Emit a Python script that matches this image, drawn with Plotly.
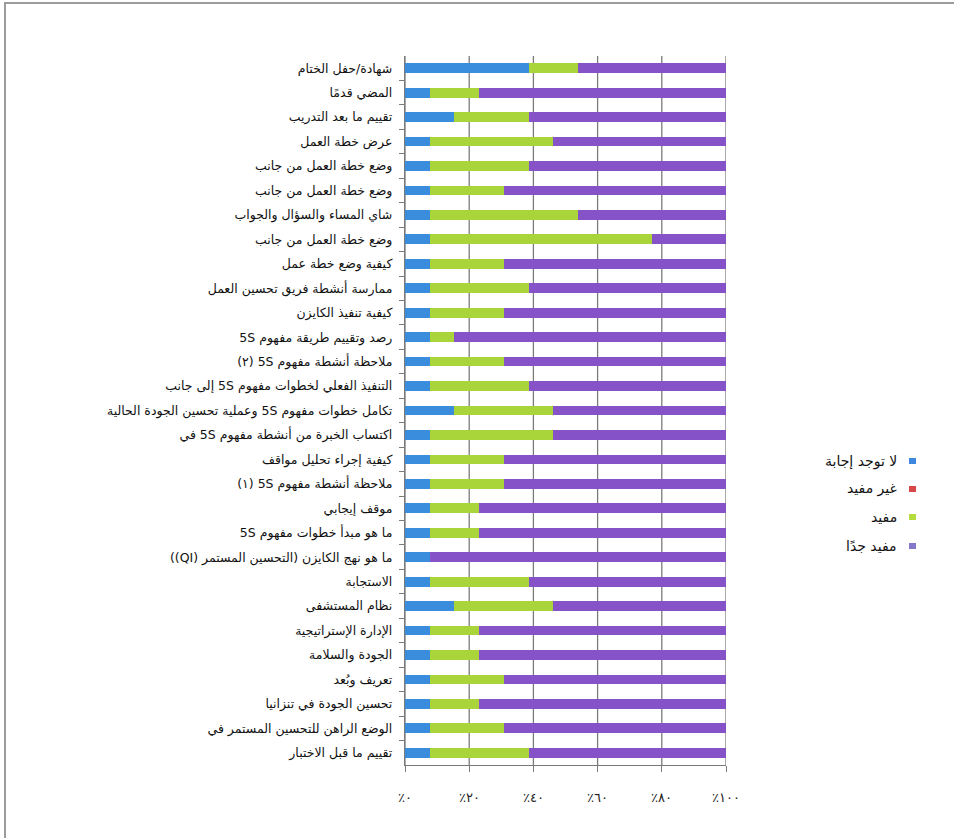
import plotly.graph_objects as go

# Session titles, top to bottom
sessions = [
    "شهادة/حفل الختام",
    "المضي قدمًا",
    "تقييم ما بعد التدريب",
    "عرض خطة العمل",
    "وضع خطة العمل من جانب",
    "وضع خطة العمل من جانب",
    "شاي المساء والسؤال والجواب",
    "وضع خطة العمل من جانب",
    "كيفية وضع خطة عمل",
    "ممارسة أنشطة فريق تحسين العمل",
    "كيفية تنفيذ الكايزن",
    "رصد وتقييم طريقة مفهوم 5S",
    "ملاحظة أنشطة مفهوم 5S (٢)",
    "التنفيذ الفعلي لخطوات مفهوم 5S إلى جانب",
    "تكامل خطوات مفهوم 5S وعملية تحسين الجودة الحالية",
    "اكتساب الخبرة من أنشطة مفهوم 5S في",
    "كيفية إجراء تحليل مواقف",
    "ملاحظة أنشطة مفهوم 5S (١)",
    "موقف إيجابي",
    "ما هو مبدأ خطوات مفهوم 5S",
    "ما هو نهج الكايزن (التحسين المستمر (QI))",
    "الاستجابة",
    "نظام المستشفى",
    "الإدارة الإستراتيجية",
    "الجودة والسلامة",
    "تعريف وبُعد",
    "تحسين الجودة في تنزانيا",
    "الوضع الراهن للتحسين المستمر في",
    "تقييم ما قبل الاختبار",
]

series_names = ["لا توجد إجابة", "غير مفيد", "مفيد", "مفيد جدًا"]
series_colors = ["#3a8ddc", "#d2403c", "#a9d53a", "#8652c8"]
legend_colors = ["#3f86e0", "#d84848", "#b4dc3c", "#8478cc"]

# Share of answers (%) per session
no_answer = [38.5, 7.7, 15.4, 7.7, 7.7, 7.7, 7.7, 7.7, 7.7, 7.7,
             7.7, 7.7, 7.7, 7.7, 15.4, 7.7, 7.7, 7.7, 7.7, 7.7,
             7.7, 7.7, 15.4, 7.7, 7.7, 7.7, 7.7, 7.7, 7.7]
not_useful = [0] * 29
useful = [15.4, 15.4, 23.1, 38.5, 30.8, 23.1, 46.2, 69.2, 23.1, 30.8,
          23.1, 7.7, 23.1, 30.8, 30.8, 38.5, 23.1, 23.1, 15.4, 15.4,
          0.0, 30.8, 30.8, 15.4, 15.4, 23.1, 15.4, 23.1, 30.8]
very_useful = [46.1, 76.9, 61.5, 53.8, 61.5, 69.2, 46.1, 23.1, 69.2, 61.5,
               69.2, 84.6, 69.2, 61.5, 53.8, 53.8, 69.2, 69.2, 76.9, 76.9,
               92.3, 61.5, 53.8, 76.9, 76.9, 69.2, 76.9, 69.2, 61.5]

x_ticks = [0, 20, 40, 60, 80, 100]
x_tick_text = ["٪٠", "٪٢٠", "٪٤٠", "٪٦٠", "٪٨٠", "٪١٠٠"]

W, H = 954, 838
L, R, T, B = 405, 228, 56, 73
PW, PH = W - L - R, H - T - B
GRID = "#7a7a7a"
FRAME = "#9c9c9c"


def px(x):
    return (x - L) / PW


def py(y):
    return (H - B - y) / PH


def rtl(s):
    return "\u202b" + s + "\u202c"


positions = list(range(len(sessions)))
fig = go.Figure()
for name, color, vals in zip(series_names, series_colors,
                             [no_answer, not_useful, useful, very_useful]):
    fig.add_trace(go.Bar(
        y=positions, x=vals, name=name, orientation="h",
        marker=dict(color=color, line=dict(width=0)),
        showlegend=False,
    ))

shapes = []
# vertical gridlines as thin filled strips behind the bars
half = 0.2
for v in x_ticks:
    shapes.append(dict(type="rect", xref="x", yref="paper",
                       x0=max(v - half, 0), x1=min(v + half, 100),
                       y0=0, y1=1, layer="below",
                       fillcolor=GRID, line=dict(width=0)))
# outer frame (top and left edges)
shapes.append(dict(type="rect", xref="paper", yref="paper",
                   x0=px(4), x1=px(954), y0=py(4), y1=py(2),
                   fillcolor=FRAME, line=dict(width=0)))
shapes.append(dict(type="rect", xref="paper", yref="paper",
                   x0=px(4), x1=px(6), y0=py(838), y1=py(2),
                   fillcolor=FRAME, line=dict(width=0)))

annotations = []
# percentage labels under the value axis
for v, t in zip(x_ticks, x_tick_text):
    annotations.append(dict(xref="x", yref="paper", x=v, y=py(797),
                            text=t, showarrow=False, xanchor="center",
                            yanchor="middle",
                            font=dict(family="DejaVu Sans", size=13,
                                      color="#222222")))
# legend, marker to the right of its label
legend_y = [461, 489, 517, 546]
for name, color, ly in zip(series_names, legend_colors, legend_y):
    shapes.append(dict(type="rect", xref="paper", yref="paper",
                       x0=px(909), x1=px(916), y0=py(ly + 3), y1=py(ly - 3),
                       fillcolor=color, line=dict(width=0)))
    annotations.append(dict(xref="paper", yref="paper", x=px(899), y=py(ly),
                            text=rtl(name), showarrow=False, xanchor="right",
                            yanchor="middle",
                            font=dict(family="DejaVu Sans", size=14,
                                      color="#111111")))

fig.update_layout(
    width=W, height=H,
    margin=dict(l=L, r=R, t=T, b=B),
    paper_bgcolor="white", plot_bgcolor="white",
    barmode="stack", barnorm="percent", bargap=0.6,
    shapes=shapes, annotations=annotations,
    font=dict(family="DejaVu Sans", color="#111111"),
)
fig.update_xaxes(
    range=[0, 100], tickvals=x_ticks, showticklabels=False,
    showgrid=False, showline=True, linecolor=GRID, linewidth=1.3,
    ticks="outside", ticklen=6, tickcolor=GRID, zeroline=False,
)
fig.update_yaxes(
    range=[len(sessions) - 0.5, -0.5],
    tickvals=positions, ticktext=[rtl(s) for s in sessions],
    ticks="outside", ticklen=9, tickcolor="rgba(0,0,0,0)",
    showline=True, linecolor=GRID, linewidth=1.3, showgrid=False,
    tickfont=dict(size=12.5, color="#111111"),
    minor=dict(tickvals=[p + 0.5 for p in positions[:-1]], ticks="outside",
               ticklen=5, tickcolor=GRID, showgrid=False),
    zeroline=False,
)
fig.write_html("out.html")
